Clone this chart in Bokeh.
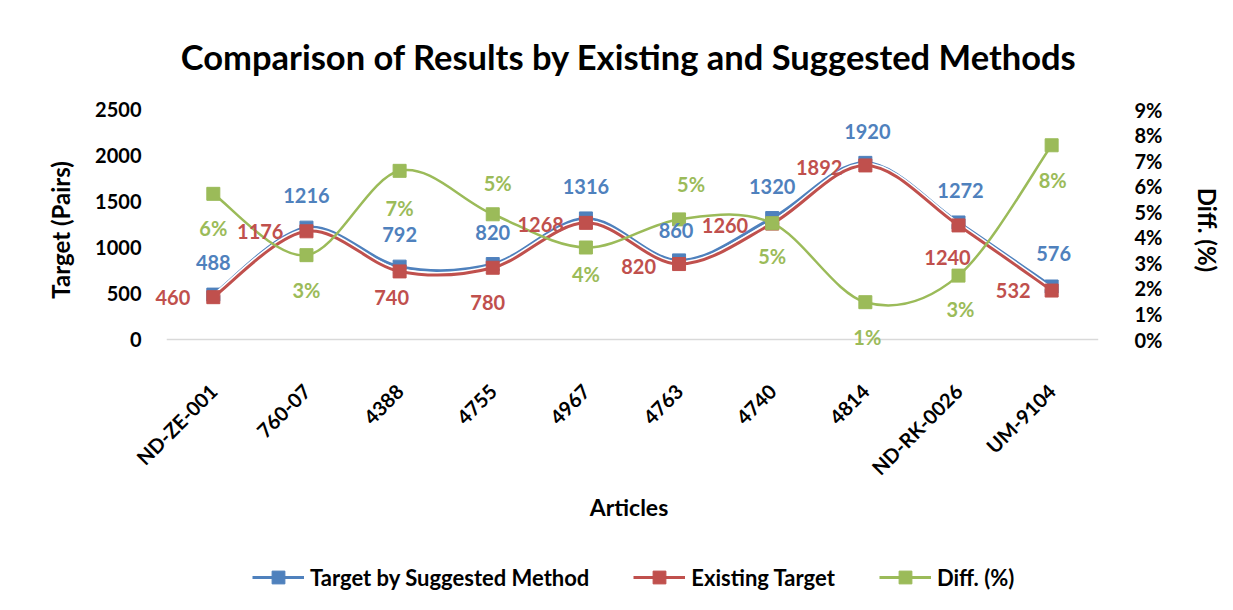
import math
from bokeh.plotting import figure
from bokeh.layouts import column
from bokeh.models import (Range1d, LinearAxis, FixedTicker, NumeralTickFormatter,
                          ColumnDataSource, LabelSet, Legend, LegendItem)
from bokeh.core.properties import value
from bokeh.embed import file_html
from bokeh.resources import INLINE

# ---------------- data ----------------
articles = ["ND-ZE-001", "760-07", "4388", "4755", "4967", "4763", "4740", "4814", "ND-RK-0026", "UM-9104"]
suggested = [488, 1216, 792, 820, 1316, 860, 1320, 1920, 1272, 576]
existing = [460, 1176, 740, 780, 1268, 820, 1260, 1892, 1240, 532]
diff_pct = [5.7, 3.3, 6.6, 4.9, 3.6, 4.7, 4.55, 1.46, 2.5, 7.6]
left_ticks = [0, 500, 1000, 1500, 2000, 2500]
right_ticks_pct = [0, 1, 2, 3, 4, 5, 6, 7, 8, 9]

title_text = "Comparison of Results by Existing and Suggested Methods"
series_names = ["Target by Suggested Method", "Existing Target", "Diff. (%)"]

# ---------------- style ----------------
BLUE, RED, GREEN = "#4F81BD", "#C0504D", "#9BBB59"
FONT = "Lato"

# label placement (pixel offsets, y up) per point
blue_off = [(0, 32), (0, 32), (0, 32), (0, 32), (0, 32), (-3, 30), (0, 32), (2, 31), (2, 32), (2, 33)]
red_pos = ["L", "L", "B", "B", "L", "L", "L", "L", "B", "L"]
red_off = [(-23, 0), (-23, 0), (-8, -26), (-5, -35), (-22, -2), (-23, -2), (-24, -2), (-23, -2), (-11, -32), (-21, 0)]
green_off = [(0, -34), (0, -35), (0, -37), (5, 31), (0, -26), (12, 35), (0, -33), (2, -35), (2, -33), (1, -35)]

xs = list(range(len(articles)))
diff_frac = [d / 100 for d in diff_pct]

# ---------------- geometry (px) ----------------
W, H, HL = 1225, 540, 62
FL, FR, FT, FB = 150, 1125, 109, 350      # frame edges
X0_PX, STEP_PX = 214, 94.9                # where first category sits, category pitch
ZERO_PX = 339                              # where value 0 sits
YMAX, DMAX = 2500, 0.09
ppu = (ZERO_PX - FT) / YMAX
dppu = (ZERO_PX - FT) / DMAX

x_range = Range1d(-(X0_PX - FL) / STEP_PX, (len(articles) - 1) + (FR - (X0_PX + STEP_PX * (len(articles) - 1))) / STEP_PX)
y_range = Range1d(-(FB - ZERO_PX) / ppu, YMAX)

p = figure(width=W, height=H, output_backend="svg", toolbar_location=None,
           x_range=x_range, y_range=y_range,
           min_border_left=FL, min_border_right=W - FR, min_border_top=FT, min_border_bottom=H - FB)
p.extra_y_ranges = {"diff": Range1d(-(FB - ZERO_PX) / dppu, DMAX)}
p.outline_line_color = None
p.xgrid.grid_line_color = None
p.ygrid.grid_line_color = None
p.background_fill_color = "white"
p.border_fill_color = "white"

p.title.text = title_text
p.title.align = "center"
p.title.text_font = FONT
p.title.text_font_style = "bold"
p.title.text_font_size = "34.5px"
p.title.text_color = "black"
p.title.standoff = 66

# axes
xa = p.xaxis[0]
xa.ticker = FixedTicker(ticks=xs)
xa.major_label_overrides = {i: a for i, a in enumerate(articles)}
xa.major_label_orientation = math.pi / 4
xa.axis_line_color = None
xa.major_tick_line_color = None
xa.minor_tick_line_color = None
xa.major_label_standoff = 31
xa.axis_label = "Articles"
xa.axis_label_standoff = 2

ya = p.yaxis[0]
ya.ticker = FixedTicker(ticks=left_ticks)
ya.axis_line_color = None
ya.major_tick_line_color = None
ya.minor_tick_line_color = None
ya.major_label_standoff = 3
ya.axis_label = "Target (Pairs)"
ya.axis_label_standoff = 17

ra = LinearAxis(y_range_name="diff", ticker=FixedTicker(ticks=[t / 100 for t in right_ticks_pct]),
                formatter=NumeralTickFormatter(format="0%"))
ra.axis_line_color = None
ra.major_tick_line_color = None
ra.minor_tick_line_color = None
ra.major_label_standoff = 21
ra.axis_label = "Diff. (%)"
ra.axis_label_standoff = 28
p.add_layout(ra, "right")

for ax in (xa, ya, ra):
    ax.major_label_text_font = FONT
    ax.major_label_text_font_style = "bold"
    ax.major_label_text_font_size = "20px"
    ax.major_label_text_color = "black"
    ax.axis_label_text_font = FONT
    ax.axis_label_text_font_style = "bold"
    ax.axis_label_text_font_size = "24px"
    ax.axis_label_text_color = "black"
xa.axis_label_text_font_size = "23px"

# zero baseline across the category span
p.segment(x0=[-0.5], y0=[0], x1=[len(articles) - 0.5], y1=[0], line_color="#D9D9D9", line_width=1.5)


def smooth(xv, yv):
    n = len(xv)
    d = dict(x0=[], y0=[], x1=[], y1=[], cx0=[], cy0=[], cx1=[], cy1=[])
    for i in range(n - 1):
        a = max(i - 1, 0)
        b = min(i + 2, n - 1)
        d["x0"].append(xv[i]); d["y0"].append(yv[i])
        d["x1"].append(xv[i + 1]); d["y1"].append(yv[i + 1])
        d["cx0"].append(xv[i] + (xv[i + 1] - xv[a]) / 6)
        d["cy0"].append(yv[i] + (yv[i + 1] - yv[a]) / 6)
        d["cx1"].append(xv[i + 1] - (xv[b] - xv[i]) / 6)
        d["cy1"].append(yv[i + 1] - (yv[b] - yv[i]) / 6)
    return ColumnDataSource(d)


bz = dict(x0="x0", y0="y0", x1="x1", y1="y1", cx0="cx0", cy0="cy0", cx1="cx1", cy1="cy1")

src_b = smooth(xs, suggested)
src_r = smooth(xs, existing)
src_g = smooth(xs, diff_frac)

p.bezier(source=src_b, line_color="white", line_width=6, line_cap="round", **bz)
p.bezier(source=src_b, line_color=BLUE, line_width=3, line_cap="round", **bz)
p.scatter(xs, suggested, marker="square", size=13, color=BLUE)
p.bezier(source=src_r, line_color="white", line_width=6, line_cap="round", **bz)
p.bezier(source=src_r, line_color=RED, line_width=3, line_cap="round", **bz)
p.scatter(xs, existing, marker="square", size=13, color=RED)
p.bezier(source=src_g, line_color=GREEN, line_width=2.5, line_cap="round", y_range_name="diff", **bz)
p.scatter(xs, diff_frac, marker="square", size=13, color=GREEN, y_range_name="diff")


def labelset(xv, yv, texts, offs, color, align, yr="default"):
    src = ColumnDataSource(dict(x=xv, y=yv, t=texts, dx=[o[0] for o in offs], dy=[o[1] for o in offs]))
    ls = LabelSet(x="x", y="y", text="t", x_offset="dx", y_offset="dy", source=src,
                  text_color=color, text_font=value(FONT), text_font_style="bold",
                  text_font_size="20px", text_align=align, text_baseline="middle",
                  y_range_name=yr)
    p.add_layout(ls)


labelset(xs, suggested, [str(v) for v in suggested], blue_off, BLUE, "center")
idxL = [i for i, r in enumerate(red_pos) if r == "L"]
idxB = [i for i, r in enumerate(red_pos) if r == "B"]
labelset([xs[i] for i in idxL], [existing[i] for i in idxL], [str(existing[i]) for i in idxL],
         [red_off[i] for i in idxL], RED, "right")
labelset([xs[i] for i in idxB], [existing[i] for i in idxB], [str(existing[i]) for i in idxB],
         [red_off[i] for i in idxB], RED, "center")
labelset(xs, diff_frac, ["%d%%" % math.floor(d + 0.5) for d in diff_pct], green_off, GREEN, "center", "diff")

# ---------------- legend strip ----------------
pl = figure(width=W, height=HL, output_backend="svg", toolbar_location=None,
            x_range=Range1d(0, 1), y_range=Range1d(0, 1),
            min_border=0, min_border_left=0, min_border_right=0, min_border_top=0, min_border_bottom=0)
pl.axis.visible = False
pl.grid.visible = False
pl.outline_line_color = None
pl.background_fill_color = "white"
pl.border_fill_color = "white"

items = []
for name, col in zip(series_names, [BLUE, RED, GREEN]):
    ln = pl.line(x=[-5, -4], y=[-5, -5], line_color=col, line_width=3)
    mk = pl.scatter(x=[-5], y=[-5], marker="square", color=col)
    items.append(LegendItem(label=name, renderers=[ln, mk]))

# legend x is measured from the (column-aligned) frame left edge
legend = Legend(items=items, location=(252 - FL, 9), orientation="horizontal",
                label_text_font=FONT, label_text_font_style="bold", label_text_font_size="22px",
                label_text_color="black", glyph_width=52, glyph_height=32, spacing=44,
                label_standoff=6, padding=0, margin=0, border_line_color=None,
                background_fill_alpha=0)
pl.add_layout(legend, "center")

layout = column(p, pl, spacing=0)
open("out.html", "w").write(file_html(layout, INLINE))
